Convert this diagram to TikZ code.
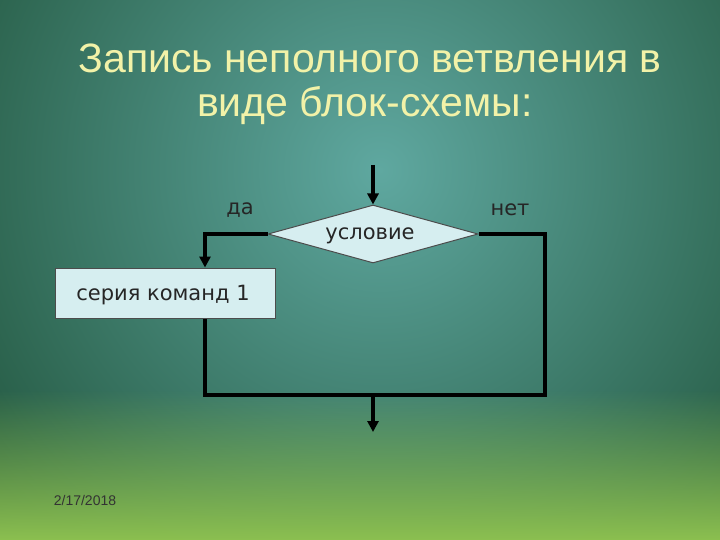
\documentclass[tikz,border=0pt]{standalone}
\usepackage{fontspec}
\setmainfont{Liberation Sans}
\newfontfamily\vfont{DejaVu Sans}
\usetikzlibrary{shapes.geometric,arrows.meta,fadings}
\definecolor{bgdark}{HTML}{1C4E34}
\definecolor{bgmid}{HTML}{2F7A58}
\definecolor{bglight}{HTML}{5FA8A0}
\definecolor{grassc}{HTML}{8CC050}
\definecolor{titlec}{HTML}{F2F2A8}
\definecolor{boxfill}{HTML}{D6EEF0}
\tikzset{
  conn/.style={line width=4pt,black},
  arr/.style={conn,-{Triangle[length=11pt,width=11pt]}},
  lbl/.style={font=\vfont\fontsize{21}{25}\selectfont,text=black!85},
}
\begin{document}
\begin{tikzpicture}[x=1pt,y=-1pt]
\useasboundingbox (0,0) rectangle (720,540);
\clip (0,0) rectangle (720,540);
\shade[inner color=bglight,outer color=bgdark] (380,170) circle (560);
\fill[grassc,path fading=north] (0,390) rectangle (720,540);
\node[text=titlec,font=\fontsize{41}{46}\selectfont] (t1) at (370,58) {Запись неполного ветвления в};
\node[text=titlec,font=\fontsize{41}{46}\selectfont] (t2) at (365,106) {виде блок-схемы:};
\node[diamond,aspect=3.6,draw=black!70,line width=1pt,fill=boxfill,minimum width=210pt,minimum height=58pt,inner sep=0pt] (d) at (373,234) {};
\node[lbl] (dt) at (370,236) {условие};
\node[draw=black!70,line width=1pt,fill=boxfill,minimum width=220pt,minimum height=50pt,inner sep=0pt] (b) at (165,293) {};
\node[lbl] (bt) at (163,295) {серия команд 1};
\coordinate (in) at (373,165);
\coordinate (lc) at (205,234);
\coordinate (rc) at (545,234);
\coordinate (rb) at (545,395);
\coordinate (lb) at (205,395);
\coordinate (m) at (373,395);
\coordinate (out) at (373,432);
\draw[arr] (in) -- (d.north);
\draw[arr] (d.west) -- (lc) -- (b.north -| lc);
\draw[conn] (d.east) -- (rc) -- (rb) -- (lb) -- (b.south -| lb);
\draw[arr] (m) -- (out);
\node[lbl] (da) at (240,210) {да};
\node[lbl] (net) at (510,210) {нет};
\node[font=\fontsize{14}{16}\selectfont,text=black!80] (date) at (85,500) {2/17/2018};
\end{tikzpicture}
\end{document}
